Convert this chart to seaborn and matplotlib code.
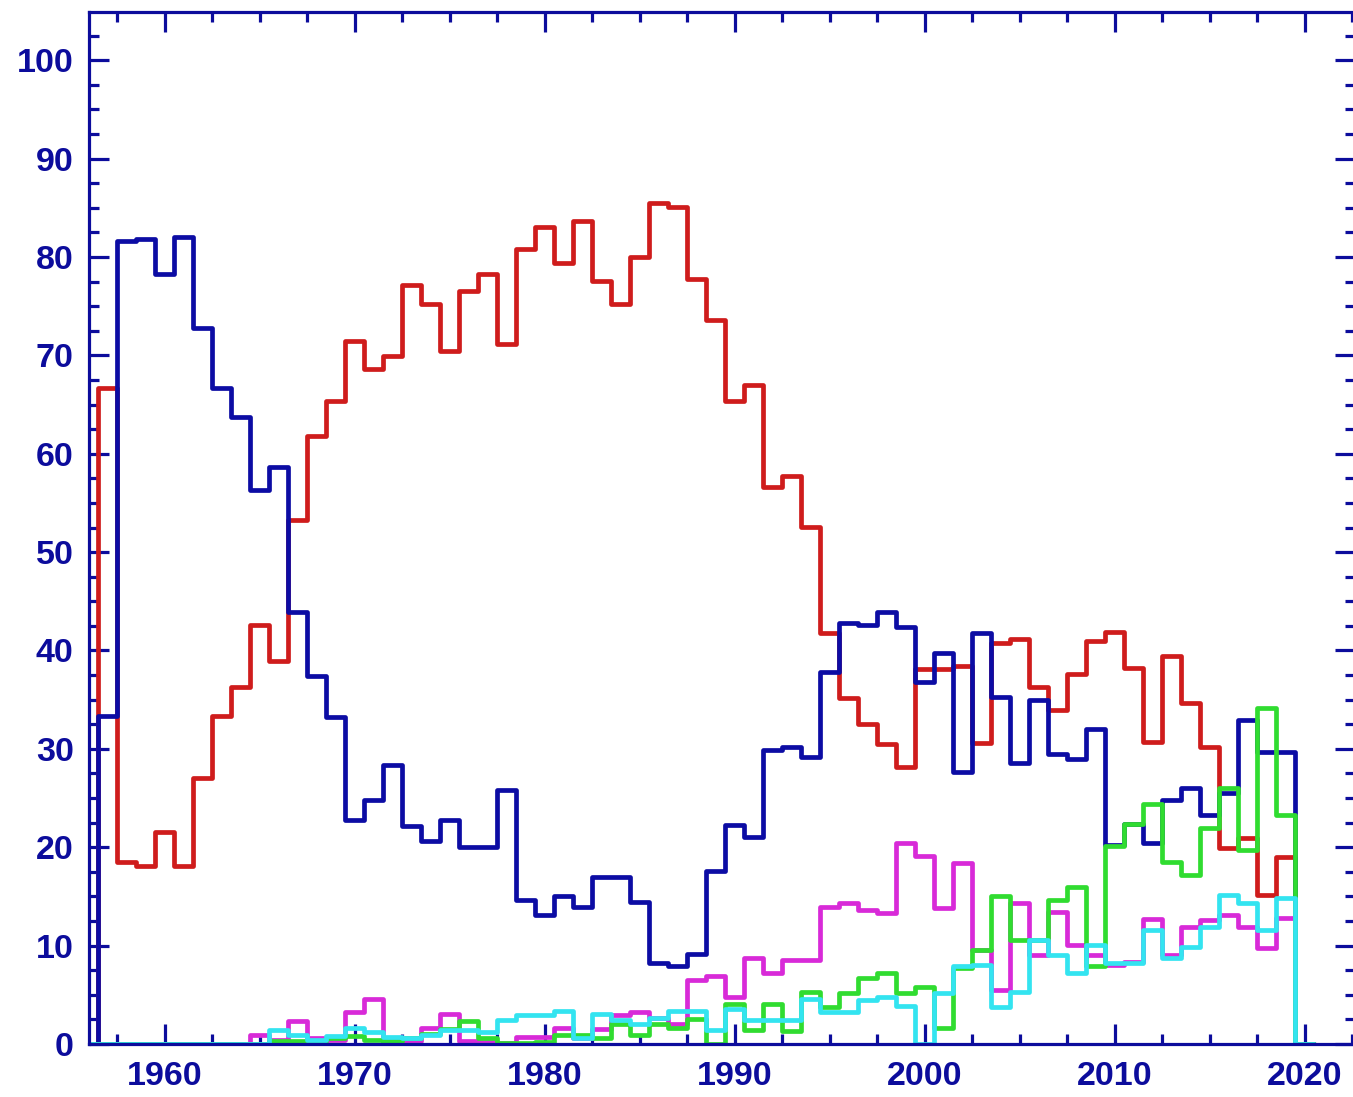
import numpy as np
import pandas as pd
import matplotlib
matplotlib.use("Agg")
import matplotlib.pyplot as plt
import seaborn as sns
from matplotlib.ticker import MultipleLocator

# yearly shares (%), one value per year 1957-2019
years = list(range(1957, 2020))

red = [66.7, 18.5, 18.1, 21.5, 18.1, 27.0, 33.3, 36.3, 42.6, 38.9,
       53.3, 61.8, 65.4, 71.5, 68.6, 69.9, 77.2, 75.2, 70.4, 76.5,
       78.3, 71.2, 80.8, 83.0, 79.4, 83.7, 77.6, 75.2, 80.0, 85.5,
       85.1, 77.8, 73.6, 65.4, 67.0, 56.6, 57.7, 52.6, 41.8, 35.2,
       32.5, 30.5, 28.2, 38.1, 38.1, 38.4, 30.6, 40.8, 41.2, 36.3,
       33.9, 37.6, 41.0, 41.9, 38.2, 30.7, 39.4, 34.7, 30.2, 19.9,
       20.9, 15.1, 19.0]

blue = [33.3, 81.6, 81.8, 78.3, 82.0, 72.8, 66.7, 63.7, 56.3, 58.7,
        43.9, 37.4, 33.2, 22.8, 24.8, 28.4, 22.2, 20.6, 22.8, 20.0,
        20.0, 25.8, 14.6, 13.1, 15.0, 13.9, 17.0, 17.0, 14.4, 8.2,
        7.9, 9.1, 17.6, 22.3, 21.0, 29.9, 30.2, 29.2, 37.8, 42.8,
        42.6, 43.9, 42.4, 36.8, 39.7, 27.6, 41.8, 35.3, 28.6, 35.0,
        29.5, 29.0, 32.0, 20.2, 22.4, 20.4, 24.8, 26.0, 23.3, 25.5,
        32.9, 29.7, 29.7]

magenta = [0, 0, 0, 0, 0, 0, 0, 0, 0.9, 0.4,
           2.3, 0.6, 0.4, 3.3, 4.6, 0.3, 0.3, 1.6, 3.1, 0.3,
           0.2, 0.1, 0.7, 0.7, 1.6, 0.6, 1.5, 2.9, 3.3, 2.6,
           2.0, 6.5, 6.9, 4.8, 8.7, 7.2, 8.5, 8.5, 13.9, 14.3,
           13.6, 13.3, 20.4, 19.1, 13.8, 18.4, 9.6, 5.5, 14.3, 9.0,
           13.4, 10.1, 9.0, 8.0, 8.3, 12.7, 9.0, 11.9, 12.6, 13.1,
           11.9, 9.8, 12.8]

green = [0, 0, 0, 0, 0, 0, 0, 0, 0, 0.3,
         0.3, 0.3, 0.6, 0.8, 0.4, 0.3, 0.6, 1.0, 1.5, 2.3,
         0.6, 0.1, 0.1, 0.2, 0.9, 0.9, 0.6, 2.0, 0.9, 2.0,
         1.6, 2.5, 0.0, 4.1, 1.4, 4.1, 1.3, 5.3, 3.8, 5.2,
         6.7, 7.2, 5.2, 5.8, 1.6, 7.7, 9.6, 15.0, 10.6, 10.6,
         14.6, 16.0, 7.9, 20.1, 22.4, 24.4, 18.5, 17.2, 22.0, 26.0,
         19.7, 34.2, 23.3]

cyan = [0, 0, 0, 0, 0, 0, 0, 0, 0, 1.4,
        0.9, 0.4, 0.8, 1.6, 1.2, 0.7, 0.6, 0.9, 1.4, 1.4,
        1.2, 2.4, 2.9, 2.9, 3.4, 0.6, 3.0, 2.4, 2.0, 2.6,
        3.4, 3.4, 1.4, 3.6, 2.4, 2.4, 2.4, 4.6, 3.3, 3.3,
        4.5, 4.8, 3.9, 0.0, 5.2, 7.9, 8.0, 3.8, 5.3, 10.6,
        9.0, 7.2, 10.1, 8.2, 8.2, 11.6, 8.7, 9.9, 11.9, 15.1,
        14.3, 11.6, 14.8]

series = {"red": red, "blue": blue, "magenta": magenta,
          "green": green, "cyan": cyan}
palette = {"red": "#cf1c1c", "blue": "#0c0ca4", "magenta": "#d82ad8",
           "green": "#30dc30", "cyan": "#33e4f0"}
# seaborn draws hue levels in reverse, so red ends up at the bottom
hue_order = ["cyan", "green", "magenta", "blue", "red"]

# long-form table; an empty year on each side closes the outline at 0
rows = []
for name, vals in series.items():
    rows.append((1956, 0.0, name))
    for y, v in zip(years, vals):
        rows.append((y, v, name))
    rows.append((2020, 0.0, name))
df = pd.DataFrame(rows, columns=["year", "pct", "series"])

sns.set_style("ticks")
plt.rcParams["font.family"] = ["Liberation Sans", "DejaVu Sans"]
plt.rcParams["font.weight"] = "bold"

axis_col = "#0c0c9c"

fig = plt.figure(figsize=(13.53, 10.97), dpi=100)
ax = fig.add_axes([89 / 1353, 53 / 1097, 1266.5 / 1353, 1032 / 1097])

sns.histplot(data=df, x="year", weights="pct", hue="series",
             hue_order=hue_order, palette=palette, discrete=True,
             element="step", fill=False, linewidth=3.4, legend=False, ax=ax)

ax.set_xlim(1956.0, 2022.66)
ax.set_ylim(0, 104.9)
ax.set_xlabel("")
ax.set_ylabel("")

ax.xaxis.set_major_locator(MultipleLocator(10))
ax.xaxis.set_minor_locator(MultipleLocator(2.5))
ax.yaxis.set_major_locator(MultipleLocator(10))
ax.yaxis.set_minor_locator(MultipleLocator(2.5))

ax.tick_params(which="both", direction="in", top=True, right=True,
               color=axis_col, width=2.3)
ax.tick_params(which="major", length=14.5)
ax.tick_params(which="minor", length=7)
ax.tick_params(axis="x", which="major", pad=12.5, labelsize=24.5,
               labelcolor=axis_col)
ax.tick_params(axis="y", which="major", pad=11, labelsize=24.5,
               labelcolor=axis_col)
for lab in ax.get_xticklabels() + ax.get_yticklabels():
    lab.set_fontweight("bold")

for sp in ax.spines.values():
    sp.set_color(axis_col)
    sp.set_linewidth(2.3)

fig.savefig("out.png", dpi=100)
